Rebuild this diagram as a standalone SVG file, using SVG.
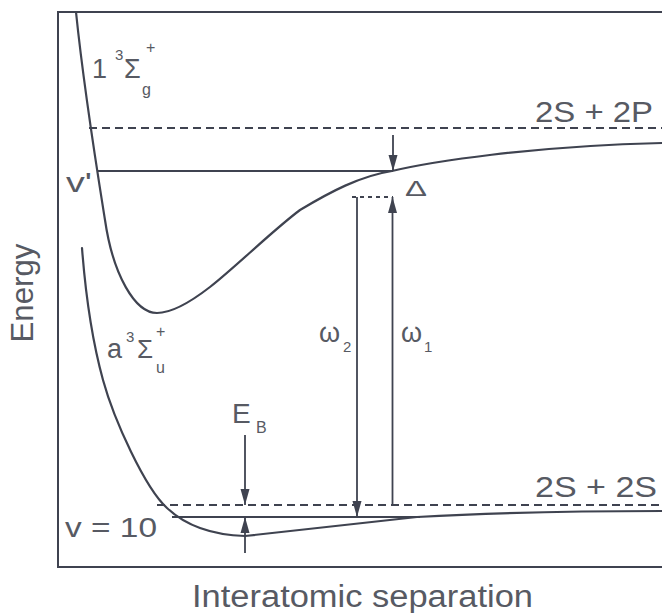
<svg xmlns="http://www.w3.org/2000/svg" width="662" height="613" viewBox="0 0 662 613">
<style>
.ln{fill:none;stroke:#3f4350;stroke-width:2}
.cv{fill:none;stroke:#3f4350;stroke-width:2.2;stroke-linejoin:round;stroke-linecap:round}
.dash{fill:none;stroke:#3f4350;stroke-width:2;stroke-dasharray:8 5}
.dot{fill:none;stroke:#3f4350;stroke-width:2;stroke-dasharray:4 4}
.ar{fill:none;stroke:#3f4350;stroke-width:1.8;marker-end:url(#ah)}
.t{font-family:"Liberation Sans",Arial,sans-serif;fill:#575a63}
</style>
<defs>
<marker id="ah" markerUnits="userSpaceOnUse" markerWidth="16" markerHeight="10" refX="16" refY="5" orient="auto">
<path d="M0,0.5 L16,5 L0,9.5 z" fill="#3f4350"/>
</marker>
</defs>
<rect width="662" height="613" fill="#ffffff"/>
<g id="frame">
<path class="ln" d="M662,12 H58 V567 H662"/>
</g>
<g id="asymptotes">
<line class="dash" x1="89" y1="128" x2="662" y2="128"/>
<line class="dash" x1="157" y1="505" x2="662" y2="505"/>
<line class="dot" x1="352" y1="197" x2="393" y2="197"/>
</g>
<g id="levels">
<line class="ln" x1="97" y1="171" x2="393" y2="171"/>
<line class="ln" x1="172" y1="517" x2="420" y2="517"/>
</g>
<g id="upper-curve">
<path class="cv" d="M76,12 C84,90 97,170 105,220 C113,275 135,313 157,313 C172,313 190,302.5 210,287 C235,267.5 272,231 300,210 C330,192 360,176 392,171 C430,162 530,146 662,143"/>
</g>
<g id="lower-curve">
<path class="cv" d="M82,248 C86,300 92,340 103,380 C114,420 145,488 167,508 C185,525 210,535 245,536 L417,517 C470,514 560,511 662,511"/>
</g>
<g id="connectors">
<line class="ar" x1="393" y1="135" x2="393" y2="171"/>
<line class="ar" x1="357" y1="197" x2="357" y2="517"/>
<line class="ar" x1="392.5" y1="505" x2="392.5" y2="197"/>
<line class="ar" x1="245" y1="435" x2="245" y2="505"/>
<line class="ar" x1="245" y1="553" x2="245" y2="517"/>
</g>
<g id="label-upper-state">
<text class="t" x="92" y="78" font-size="27">1</text>
<text class="t" x="115" y="60" font-size="15">3</text>
<text class="t" x="124" y="78" font-size="27">Σ</text>
<text class="t" x="142" y="95" font-size="16">g</text>
<text class="t" x="146" y="53" font-size="16">+</text>
</g>
<g id="label-lower-state">
<text class="t" x="107" y="358" font-size="27">a</text>
<text class="t" x="126" y="342" font-size="15">3</text>
<text class="t" x="137" y="358" font-size="26">Σ</text>
<text class="t" x="156" y="373" font-size="16">u</text>
<text class="t" x="156" y="337" font-size="16">+</text>
</g>
<g id="label-2S2P"><text class="t" x="535" y="122" font-size="30" textLength="118" lengthAdjust="spacingAndGlyphs">2S + 2P</text></g>
<g id="label-2S2S"><text class="t" x="535" y="497" font-size="30" textLength="122" lengthAdjust="spacingAndGlyphs">2S + 2S</text></g>
<g id="label-vprime"><text class="t" x="66" y="192" font-size="28" textLength="26" lengthAdjust="spacingAndGlyphs">v'</text></g>
<g id="label-v10"><text class="t" x="65" y="537" font-size="28" textLength="92" lengthAdjust="spacingAndGlyphs">v = 10</text></g>
<g id="label-delta"><text class="t" x="405" y="196" font-size="22" textLength="22" lengthAdjust="spacingAndGlyphs">Δ</text></g>
<g id="label-omega2">
<text class="t" x="319" y="342" font-size="27">ω</text>
<text class="t" x="343" y="352" font-size="15">2</text>
</g>
<g id="label-omega1">
<text class="t" x="401" y="342" font-size="27">ω</text>
<text class="t" x="424" y="352" font-size="15">1</text>
</g>
<g id="label-EB">
<text class="t" x="232" y="423" font-size="28">E</text>
<text class="t" x="256" y="433" font-size="16">B</text>
</g>
<g id="axis-labels">
<text class="t" transform="translate(33,293) rotate(-90)" text-anchor="middle" font-size="31" textLength="99" lengthAdjust="spacingAndGlyphs">Energy</text>
<text class="t" x="192" y="607" font-size="31" textLength="341" lengthAdjust="spacingAndGlyphs">Interatomic separation</text>
</g>
</svg>
